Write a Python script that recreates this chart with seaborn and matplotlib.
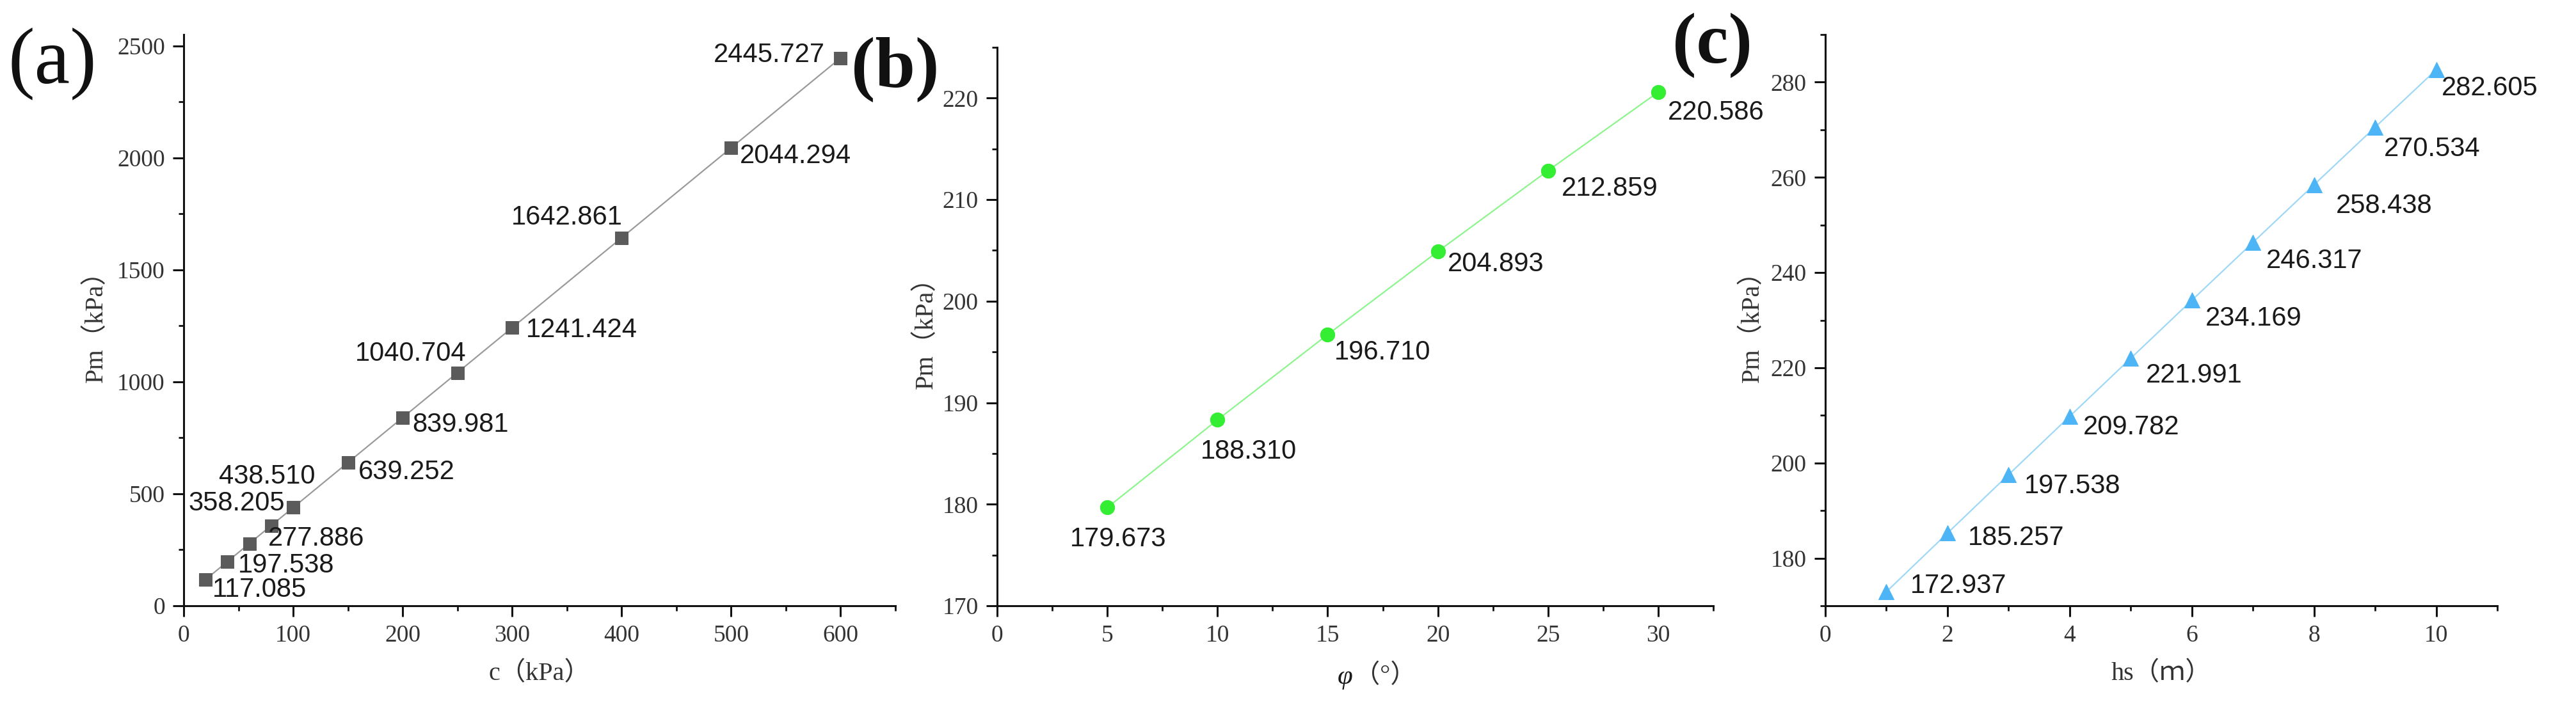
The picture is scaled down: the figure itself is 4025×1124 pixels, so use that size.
import matplotlib
matplotlib.use("Agg")
import matplotlib.pyplot as plt
from matplotlib.ticker import MultipleLocator, AutoMinorLocator
import seaborn as sns
import pandas as pd

# ---- data ----
c_vals = [20, 40, 60, 80, 100, 150, 200, 250, 300, 400, 500, 600]
pm_c = [117.085, 197.538, 277.886, 358.205, 438.510, 639.252, 839.981,
        1040.704, 1241.424, 1642.861, 2044.294, 2445.727]
phi_vals = [5, 10, 15, 20, 25, 30]
pm_phi = [179.673, 188.310, 196.710, 204.893, 212.859, 220.586]
hs_vals = [1, 2, 3, 4, 5, 6, 7, 8, 9, 10]
pm_hs = [172.937, 185.257, 197.538, 209.782, 221.991, 234.169, 246.317,
         258.438, 270.534, 282.605]
labels_c = ["117.085", "197.538", "277.886", "358.205", "438.510", "639.252",
            "839.981", "1040.704", "1241.424", "1642.861", "2044.294", "2445.727"]
labels_phi = ["179.673", "188.310", "196.710", "204.893", "212.859", "220.586"]
labels_hs = ["172.937", "185.257", "197.538", "209.782", "221.991", "234.169",
             "246.317", "258.438", "270.534", "282.605"]

sns.set_style("ticks")
plt.rcParams['font.family'] = ['Liberation Serif', 'Noto Sans CJK SC', 'DejaVu Sans']

DPI = 100
fig = plt.figure(figsize=(40.25, 11.24), dpi=DPI)
PX = 72.0 / DPI  # px -> points

serif = ['Liberation Serif', 'Noto Sans CJK SC', 'DejaVu Serif']
ann_font = ['Liberation Sans', 'DejaVu Sans']
TICK_FS = 27
LAB_FS = 29
ANN_FS = 30
TXT = '#333333'

axes_rects = [
    (287 / 4025, 1 - 947 / 1124, (1399 - 287) / 4025, (947 - 54) / 1124),
    (1558 / 4025, 1 - 947 / 1124, (2677 - 1558) / 4025, (947 - 74) / 1124),
    (2852 / 4025, 1 - 947 / 1124, (3902 - 2852) / 4025, (947 - 54) / 1124),
]


def style_axis(ax, xmaj, ymaj):
    for s in ['top', 'right']:
        ax.spines[s].set_visible(False)
    for s in ['left', 'bottom']:
        ax.spines[s].set_linewidth(2.2)
        ax.spines[s].set_color('#111111')
    ax.xaxis.set_major_locator(MultipleLocator(xmaj))
    ax.yaxis.set_major_locator(MultipleLocator(ymaj))
    ax.xaxis.set_minor_locator(AutoMinorLocator(2))
    ax.yaxis.set_minor_locator(AutoMinorLocator(2))
    ax.tick_params(which='major', direction='out', length=12, width=2.2,
                   labelsize=TICK_FS, colors='#111111', pad=9)
    ax.tick_params(which='minor', direction='out', length=6, width=2.0,
                   colors='#111111')
    for lab in ax.get_xticklabels() + ax.get_yticklabels():
        lab.set_family(serif)
        lab.set_color(TXT)


def annotate(ax, xs, ys, labels, offsets):
    for x, y, t, (dx, dy, ha) in zip(xs, ys, labels, offsets):
        ax.annotate(t, (x, y), xytext=(dx * PX, -dy * PX), textcoords='offset points',
                    ha=ha, va='center', fontsize=ANN_FS, family=ann_font,
                    color='#1a1a1a')


# ---------- (a) ----------
ax1 = fig.add_axes(axes_rects[0])
df1 = pd.DataFrame({'c': c_vals, 'Pm': pm_c})
sns.lineplot(data=df1, x='c', y='Pm', ax=ax1, color='#9a9a9a', linewidth=1.6,
             marker='s', markersize=15, markerfacecolor='#5b5b5b',
             markeredgecolor='#5b5b5b')
ax1.set_xlim(0, 650)
ax1.set_ylim(0, 2550)
style_axis(ax1, 100, 500)
off_a = [(11, 16, 'left'), (16, 6, 'left'), (29, -8, 'left'), (21, -35, 'right'),
         (-41, -48, 'center'), (16, 15, 'left'), (15, 11, 'left'), (-73, -30, 'center'),
         (22, 4, 'left'), (-85, -32, 'center'), (13, 13, 'left'), (-25, -5, 'right')]
annotate(ax1, c_vals, pm_c, labels_c, off_a)
ax1.set_xlabel("c（kPa）", fontsize=LAB_FS, family=serif, color=TXT, labelpad=17)
ax1.set_ylabel("Pm（kPa）", fontsize=LAB_FS, family=serif, color=TXT, labelpad=10)

# ---------- (b) ----------
ax2 = fig.add_axes(axes_rects[1])
df2 = pd.DataFrame({'phi': phi_vals, 'Pm': pm_phi})
sns.lineplot(data=df2, x='phi', y='Pm', ax=ax2, color='#8cf58c', linewidth=1.6,
             marker='o', markersize=16, markerfacecolor='#33ee33',
             markeredgecolor='#33ee33')
ax2.set_xlim(0, 32.5)
ax2.set_ylim(170, 225)
style_axis(ax2, 5, 10)
off_b = [(17, 50, 'center'), (49, 50, 'center'), (10, 28, 'left'), (15, 20, 'left'),
         (21, 28, 'left'), (15, 32, 'left')]
annotate(ax2, phi_vals, pm_phi, labels_phi, off_b)
ax2.set_xlabel("")
# x label: italic phi + (°)
ax2.annotate("φ", (0.5, 0), xycoords='axes fraction', xytext=(-4 * PX, -112 * PX),
             textcoords='offset points', ha='right', va='center', fontsize=LAB_FS + 2,
             family='Liberation Serif', style='italic', color='#1a1a1a')
ax2.annotate("（°）", (0.5, 0), xycoords='axes fraction', xytext=(-2 * PX, -110 * PX),
             textcoords='offset points', ha='left', va='center', fontsize=LAB_FS,
             family=serif, color=TXT)
ax2.set_ylabel("Pm（kPa）", fontsize=LAB_FS, family=serif, color=TXT, labelpad=5)

# ---------- (c) ----------
ax3 = fig.add_axes(axes_rects[2])
df3 = pd.DataFrame({'hs': hs_vals, 'Pm': pm_hs})
sns.lineplot(data=df3, x='hs', y='Pm', ax=ax3, color='#9fd8f7', linewidth=1.6,
             marker='^', markersize=17, markerfacecolor='#4db5f5',
             markeredgecolor='#4db5f5')
ax3.set_xlim(0, 11)
ax3.set_ylim(170, 290)
style_axis(ax3, 2, 20)
off_c = [(37, -9, 'left'), (32, 8, 'left'), (25, 18, 'left'), (21, 17, 'left'),
         (24, 27, 'left'), (21, 29, 'left'), (21, 29, 'left'), (34, 33, 'left'),
         (14, 34, 'left'), (8, 29, 'left')]
annotate(ax3, hs_vals, pm_hs, labels_hs, off_c)
ax3.set_xlabel("hs（ｍ）", fontsize=LAB_FS, family=serif, color=TXT, labelpad=17)
ax3.set_ylabel("Pm（kPa）", fontsize=LAB_FS, family=serif, color=TXT, labelpad=7)

# ---------- panel labels ----------
for txt, xpx, ypx, wt, fs in [("(a)", 13, 100, 'normal', 90),
                              ("(b)", 1330, 108, 'bold', 81),
                              ("(c)", 2613, 70, 'bold', 81)]:
    fig.text(xpx / 4025, 1 - ypx / 1124, txt, fontsize=fs, family='Liberation Serif',
             weight=wt, ha='left', va='center', color='#111111')

fig.savefig("out.png", dpi=DPI)
